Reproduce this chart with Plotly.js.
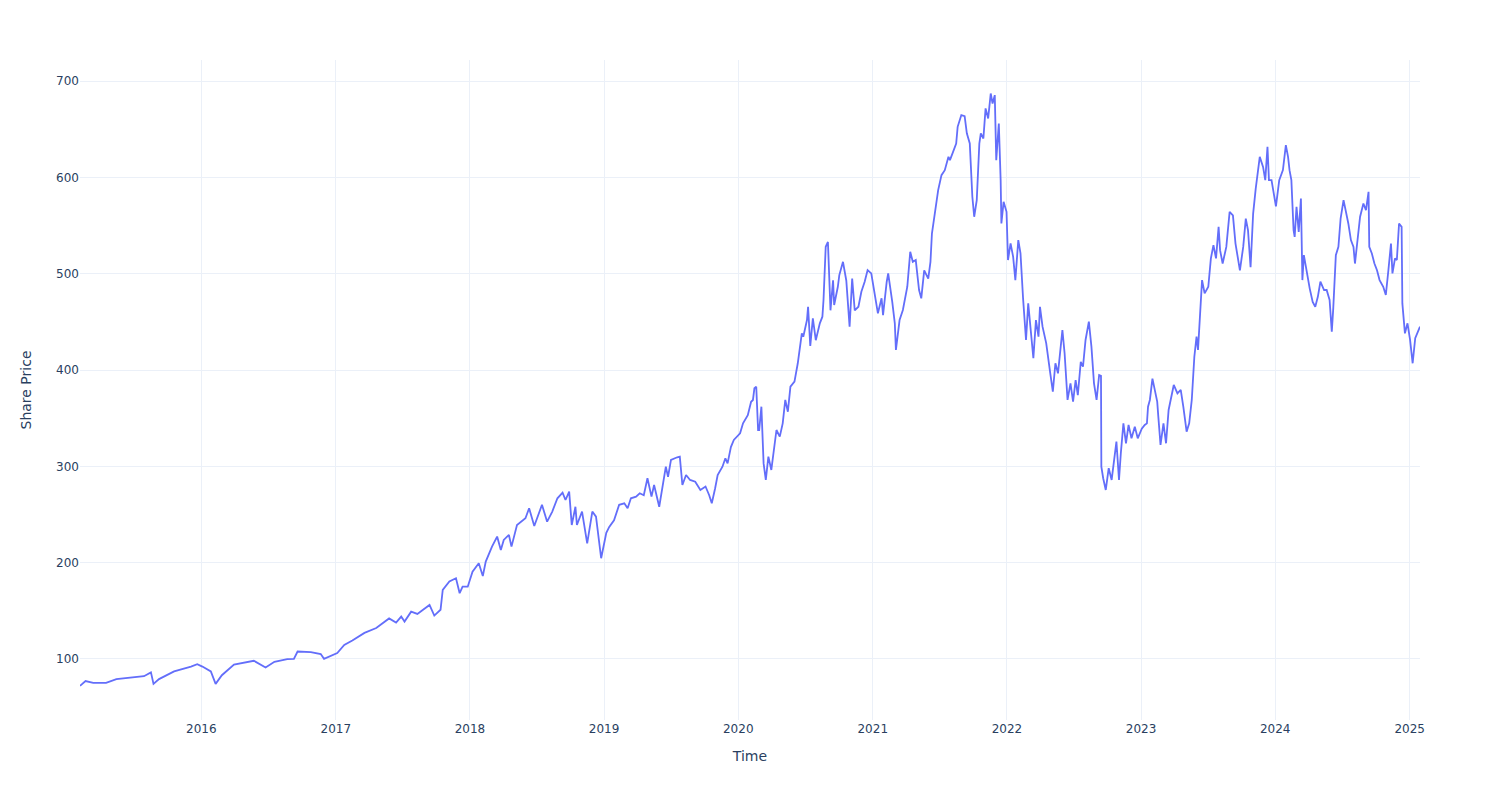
<!DOCTYPE html>
<html>
<head>
<meta charset="utf-8">
<script src="https://cdn.plot.ly/plotly-3.0.1.min.js"></script>
<style>html,body{margin:0;padding:0;background:#fff}#chart{width:1500px;height:800px}</style>
</head>
<body>
<div id="chart"></div>
<script>
var d15 = ["2015-02-05","2015-02-20","2015-03-13","2015-04-17","2015-05-15","2015-06-24","2015-07-29","2015-08-17","2015-08-24","2015-09-08","2015-10-19","2015-12-04","2015-12-21"];
var p15 = [72,77,75,75,79,81,82,86,74,79,87,92,94.5];

var d16 = ["2016-01-04","2016-01-27","2016-02-09","2016-02-26","2016-03-30","2016-05-23","2016-06-24","2016-07-18","2016-08-22","2016-09-09","2016-09-19","2016-10-25","2016-11-21","2016-11-30"];
var p16 = [92,87,74,83,94,98,91,97,99.7,100,107.6,107,105,100];

var d17 = ["2017-01-05","2017-01-24","2017-02-15","2017-03-20","2017-04-21","2017-05-26","2017-06-14","2017-06-28","2017-07-07","2017-07-25","2017-08-11","2017-09-13","2017-09-26","2017-10-13","2017-10-19","2017-11-06","2017-11-24","2017-12-04","2017-12-12","2017-12-26"];
var p17 = [106,114.5,119,127,132,142,137.7,143.9,138.7,149,146.7,156,145,151,171.6,180.3,183.7,168.2,175,175];

var d18 = ["2018-01-08","2018-01-25","2018-02-05","2018-02-13","2018-03-02","2018-03-16","2018-03-26","2018-04-03","2018-04-17","2018-04-24","2018-05-09","2018-06-01","2018-06-11","2018-06-25","2018-07-16","2018-07-30","2018-08-13","2018-08-27","2018-09-10","2018-09-18","2018-09-28","2018-10-05","2018-10-15","2018-10-19","2018-11-02","2018-11-16","2018-11-30","2018-12-10","2018-12-24"];
var p18 = [190.6,199.3,186,201,216.6,227,213,223.5,228.7,216.6,239,246,256.4,238,260,242.5,253,266.8,272.6,265,273.7,239,258,239,253,220,253,247.7,204.5];

var d19 = ["2019-01-02","2019-01-07","2019-01-15","2019-01-28","2019-02-11","2019-02-25","2019-03-06","2019-03-15","2019-03-29","2019-04-08","2019-04-19","2019-04-29","2019-05-10","2019-05-17","2019-05-31","2019-06-10","2019-06-18","2019-06-24","2019-07-02","2019-07-19","2019-07-26","2019-08-02","2019-08-12","2019-08-23","2019-09-06","2019-09-20","2019-10-04","2019-10-14","2019-10-21","2019-10-30","2019-11-06","2019-11-19","2019-11-27","2019-12-03","2019-12-12","2019-12-20"];
var p19 = [224,231,237,244,260,261.6,256.4,266.8,268.5,272,270,287.6,268.5,280.6,258,279,299.6,289,306.6,309.4,310,280.6,291,285.8,284,275.4,279,270,261.6,277,291,299.6,308.3,303,320,327.4];

var d20 = ["2020-01-06","2020-01-14","2020-01-27","2020-02-05","2020-02-10","2020-02-14","2020-02-19","2020-02-24","2020-02-27","2020-03-04","2020-03-10","2020-03-16","2020-03-23","2020-03-31","2020-04-09","2020-04-14","2020-04-23","2020-05-01","2020-05-08","2020-05-15","2020-05-22","2020-06-02","2020-06-11","2020-06-22","2020-06-26","2020-07-06","2020-07-09","2020-07-15","2020-07-22","2020-07-30","2020-08-10","2020-08-17","2020-08-20","2020-08-26","2020-09-01","2020-09-08","2020-09-15","2020-09-18","2020-09-28","2020-10-02","2020-10-12","2020-10-21","2020-10-30","2020-11-06","2020-11-13","2020-11-23","2020-12-01","2020-12-10","2020-12-18","2020-12-28"];
var p20 = [334.3,344.7,353,367,368.9,381,382.7,337.7,337.7,361.9,303,285.8,310,296.2,320.4,337.7,330.8,344.6,368.9,356.7,382.7,387.9,407,438,434.6,451.9,465.7,425,453.6,431,448.5,455.4,472.7,528,533,462,493.2,467.5,486.5,498.6,512.4,493,445,495,462,465.7,481.3,491.7,503.8,500.4];

var d21 = ["2021-01-06","2021-01-15","2021-01-25","2021-01-29","2021-02-08","2021-02-12","2021-02-23","2021-03-02","2021-03-05","2021-03-15","2021-03-24","2021-04-05","2021-04-13","2021-04-20","2021-04-28","2021-05-07","2021-05-13","2021-05-21","2021-06-01","2021-06-07","2021-06-11","2021-06-18","2021-06-28","2021-07-07","2021-07-16","2021-07-26","2021-07-30","2021-08-06","2021-08-16","2021-08-20","2021-08-30","2021-09-08","2021-09-14","2021-09-22","2021-09-29","2021-10-04","2021-10-11","2021-10-18","2021-10-22","2021-10-29","2021-11-04","2021-11-11","2021-11-18","2021-11-23","2021-11-29","2021-12-03","2021-12-10","2021-12-15","2021-12-17","2021-12-23","2021-12-31"];
var p21 = [479.6,458.9,474.5,457.1,491.7,500.4,471,448.5,420.8,451.9,462.3,486.5,522.8,512.4,514.2,483.1,474.4,503.5,495,512.4,541.8,562.6,586.8,602.4,607.6,621.4,618,625,635.3,652.6,664.8,663.7,645.8,635.3,580,559.2,576.5,635.3,645.8,640.5,671.7,661.3,687.2,676.8,685.5,618,656.1,597.2,552.2,574.7,564.3];

var d22 = ["2022-01-04","2022-01-11","2022-01-18","2022-01-24","2022-02-01","2022-02-07","2022-02-14","2022-02-22","2022-02-28","2022-03-07","2022-03-14","2022-03-21","2022-03-28","2022-04-01","2022-04-08","2022-04-18","2022-04-22","2022-04-29","2022-05-06","2022-05-13","2022-05-20","2022-05-27","2022-06-01","2022-06-07","2022-06-15","2022-06-23","2022-06-30","2022-07-07","2022-07-13","2022-07-21","2022-07-27","2022-08-03","2022-08-12","2022-08-19","2022-08-26","2022-09-02","2022-09-09","2022-09-14","2022-09-15","2022-09-20","2022-09-27","2022-10-05","2022-10-13","2022-10-26","2022-11-02","2022-11-07","2022-11-14","2022-11-21","2022-11-28","2022-12-06","2022-12-15","2022-12-23"];
var p22 = [514.2,531.5,517.6,493.4,535,521.2,474.4,431.2,469.2,441.5,412.2,451.9,434.6,465.7,445,427.7,413.9,396.6,377.6,407,396.6,427.7,441.5,417.4,368.9,386.2,367.2,389.6,374,408.6,403.4,431.2,450.2,424.3,386.2,368.9,394.8,394,299.6,287.6,275.4,298,285.8,325.7,285.8,313.5,344.6,323.9,342.9,329.1,341.2,329.1];

var d23 = ["2023-01-03","2023-01-11","2023-01-17","2023-01-20","2023-01-25","2023-02-01","2023-02-08","2023-02-10","2023-02-14","2023-02-17","2023-02-23","2023-03-03","2023-03-10","2023-03-17","2023-03-24","2023-03-31","2023-04-10","2023-04-19","2023-04-26","2023-05-05","2023-05-12","2023-05-19","2023-05-26","2023-06-01","2023-06-05","2023-06-12","2023-06-16","2023-06-23","2023-07-03","2023-07-10","2023-07-17","2023-07-24","2023-07-31","2023-08-04","2023-08-11","2023-08-21","2023-08-30","2023-09-08","2023-09-15","2023-09-27","2023-10-06","2023-10-13","2023-10-19","2023-10-26","2023-11-02","2023-11-09","2023-11-20","2023-11-29","2023-12-05","2023-12-11","2023-12-15","2023-12-22"];
var p23 = [339,342.9,344.6,361.9,368.9,391,375.8,372.4,367.2,351.6,322.2,344.6,323.9,358.5,372.4,384.5,375.8,379.3,361.9,336,344.6,368.9,413.8,434.6,420.8,472.7,493.4,479.6,486.5,515.9,529.7,515.9,548.7,524.5,510.6,527.9,564.2,560.7,531.3,503.6,527.9,557.3,545.2,506.9,562.5,588.4,621.4,611,597.2,631.8,597.2,597.2];

var d24 = ["2024-01-03","2024-01-12","2024-01-22","2024-01-30","2024-02-05","2024-02-09","2024-02-14","2024-02-20","2024-02-23","2024-02-28","2024-03-05","2024-03-11","2024-03-15","2024-03-19","2024-03-26","2024-04-04","2024-04-12","2024-04-19","2024-04-26","2024-05-03","2024-05-13","2024-05-20","2024-05-28","2024-06-03","2024-06-07","2024-06-14","2024-06-21","2024-06-27","2024-07-05","2024-07-12","2024-07-18","2024-07-25","2024-08-01","2024-08-05","2024-08-12","2024-08-19","2024-08-28","2024-09-04","2024-09-11","2024-09-13","2024-09-20","2024-09-27","2024-10-04","2024-10-11","2024-10-21","2024-10-28","2024-11-04","2024-11-11","2024-11-15","2024-11-22","2024-11-27","2024-12-03","2024-12-10","2024-12-12","2024-12-19","2024-12-26"];
var p24 = [570,597.2,607.6,633.6,621.4,607.6,597.2,545.2,538.3,569.4,543.5,578.1,493.4,519.3,503.6,484.6,470.8,465.7,476,491.7,483.1,483.1,472.7,439.8,464,519.3,527.9,557.3,576.5,564.3,552.2,535,527.9,510.6,535,559.2,573,566.1,585.1,527.9,521,510.6,503.6,493.4,486.5,477.9,503.6,531.3,500.4,515.9,514.2,552.2,548.7,469.2,438.1,448.5];

var d25 = ["2025-01-02","2025-01-09","2025-01-16","2025-01-22","2025-01-29"];
var p25 = [431.2,407,433,438.1,445];

var xTitle = "Time";
var yTitle = "Share Price";

var dates = [].concat(d15, d16, d17, d18, d19, d20, d21, d22, d23, d24, d25);
var prices = [].concat(p15, p16, p17, p18, p19, p20, p21, p22, p23, p24, p25);

var trace = {
  x: dates,
  y: prices,
  type: "scatter",
  mode: "lines",
  line: {color: "#636efa", width: 1.8},
  showlegend: false
};

var gridColor = "#EBF0F8";
var layout = {
  width: 1500,
  height: 800,
  margin: {l: 80, r: 80, t: 60, b: 80},
  paper_bgcolor: "#ffffff",
  plot_bgcolor: "#ffffff",
  font: {family: "DejaVu Sans, Verdana, sans-serif", size: 12, color: "#2a3f5f"},
  xaxis: {
    type: "date",
    title: {text: xTitle, font: {size: 14}, standoff: 16},
    gridcolor: gridColor,
    zeroline: false,
    showline: false,
    ticks: "",
    automargin: true
  },
  yaxis: {
    title: {text: yTitle, font: {size: 14}, standoff: 21},
    gridcolor: gridColor,
    zeroline: false,
    showline: false,
    ticks: "",
    range: [36.5, 722],
    dtick: 100,
    automargin: true
  }
};

Plotly.newPlot("chart", [trace], layout, {displayModeBar: false, responsive: false});
</script>
</body>
</html>
